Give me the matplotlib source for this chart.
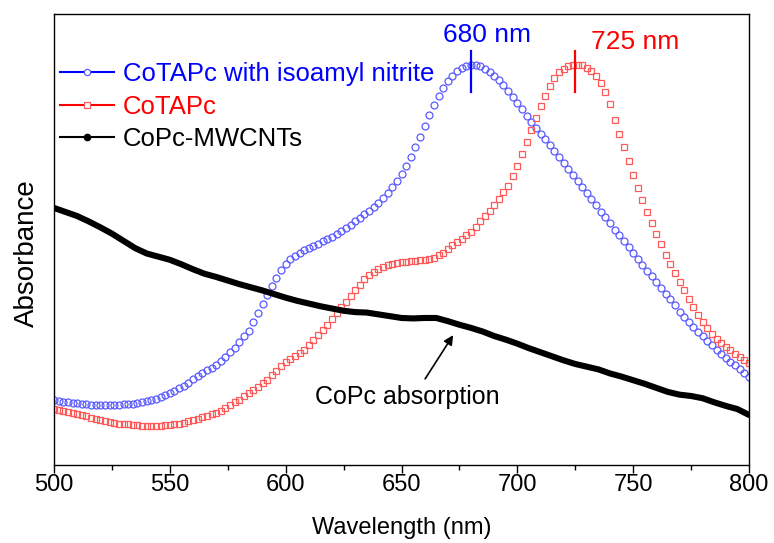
import matplotlib
matplotlib.use("Agg")
import matplotlib.pyplot as plt
from matplotlib.lines import Line2D
from matplotlib import font_manager

# ---- data -------------------------------------------------------------
wl_fine = list(range(500, 801, 2))
wl_coarse = list(range(500, 801, 5))

abs_cotapc_isoamyl = [
    0.144, 0.142, 0.140, 0.139, 0.138, 0.137, 0.136, 0.135, 0.134, 0.133,
    0.133, 0.133, 0.133, 0.134, 0.134, 0.135, 0.135, 0.136, 0.138, 0.140,
    0.142, 0.144, 0.147, 0.150, 0.155, 0.160, 0.165, 0.170, 0.175, 0.182,
    0.190, 0.198, 0.204, 0.210, 0.216, 0.222, 0.230, 0.240, 0.250, 0.260,
    0.272, 0.285, 0.298, 0.318, 0.338, 0.358, 0.378, 0.396, 0.414, 0.432,
    0.446, 0.456, 0.464, 0.470, 0.476, 0.481, 0.486, 0.491, 0.496, 0.501,
    0.506, 0.512, 0.518, 0.525, 0.532, 0.540, 0.548, 0.556, 0.563, 0.571,
    0.582, 0.592, 0.603, 0.616, 0.630, 0.646, 0.664, 0.684, 0.705, 0.727,
    0.752, 0.776, 0.798, 0.818, 0.836, 0.852, 0.863, 0.873, 0.880, 0.885,
    0.887, 0.887, 0.884, 0.879, 0.872, 0.862, 0.853, 0.842, 0.830, 0.817,
    0.803, 0.789, 0.774, 0.760, 0.747, 0.735, 0.722, 0.709, 0.696, 0.682,
    0.669, 0.656, 0.642, 0.629, 0.616, 0.602, 0.589, 0.576, 0.562, 0.549,
    0.536, 0.522, 0.509, 0.496, 0.484, 0.470, 0.456, 0.443, 0.430, 0.418,
    0.405, 0.392, 0.379, 0.367, 0.355, 0.340, 0.329, 0.318, 0.307, 0.296,
    0.285, 0.275, 0.265, 0.255, 0.246, 0.237, 0.229, 0.221, 0.213, 0.205,
    0.196,
]

abs_cotapc = [
    0.124, 0.122, 0.120, 0.118, 0.115, 0.113, 0.111, 0.108, 0.105, 0.102,
    0.100, 0.098, 0.096, 0.094, 0.092, 0.091, 0.090, 0.089, 0.088, 0.087,
    0.086, 0.086, 0.086, 0.087, 0.088, 0.089, 0.090, 0.092, 0.094, 0.097,
    0.100, 0.103, 0.106, 0.109, 0.112, 0.115, 0.120, 0.126, 0.132, 0.139,
    0.145, 0.152, 0.159, 0.166, 0.174, 0.182, 0.189, 0.199, 0.209, 0.219,
    0.228, 0.235, 0.242, 0.248, 0.256, 0.266, 0.277, 0.288, 0.299, 0.311,
    0.324, 0.337, 0.350, 0.362, 0.375, 0.388, 0.400, 0.412, 0.421, 0.428,
    0.434, 0.439, 0.443, 0.446, 0.449, 0.450, 0.451, 0.452, 0.453, 0.454,
    0.455, 0.457, 0.460, 0.465, 0.471, 0.479, 0.487, 0.495, 0.502, 0.509,
    0.517, 0.528, 0.540, 0.552, 0.564, 0.577, 0.590, 0.605, 0.619, 0.640,
    0.662, 0.690, 0.716, 0.742, 0.770, 0.796, 0.818, 0.840, 0.858, 0.871,
    0.879, 0.884, 0.887, 0.888, 0.886, 0.881, 0.873, 0.862, 0.848, 0.828,
    0.800, 0.765, 0.735, 0.704, 0.673, 0.642, 0.614, 0.587, 0.561, 0.536,
    0.512, 0.489, 0.466, 0.445, 0.425, 0.406, 0.388, 0.369, 0.351, 0.333,
    0.317, 0.303, 0.291, 0.280, 0.271, 0.262, 0.254, 0.247, 0.240, 0.233,
    0.226,
]

abs_copc_mwcnts = [
    0.570, 0.561, 0.552, 0.540, 0.527, 0.513, 0.497, 0.481, 0.469, 0.462,
    0.455, 0.445, 0.434, 0.424, 0.417, 0.409, 0.401, 0.394, 0.387, 0.379,
    0.371, 0.364, 0.358, 0.352, 0.347, 0.342, 0.339, 0.338, 0.334, 0.330,
    0.326, 0.325, 0.326, 0.326, 0.319, 0.311, 0.304, 0.296, 0.286, 0.278,
    0.269, 0.259, 0.250, 0.241, 0.232, 0.224, 0.218, 0.212, 0.203, 0.196,
    0.188, 0.180, 0.171, 0.162, 0.156, 0.153, 0.148, 0.139, 0.131, 0.124,
    0.111,
]

series_labels = ["CoTAPc with isoamyl nitrite", "CoTAPc", "CoPc-MWCNTs"]
peak_isoamyl = 680
peak_cotapc = 725
x_ticks = [500, 550, 600, 650, 700, 750, 800]

# ---- fonts ------------------------------------------------------------
installed = {f.name for f in font_manager.fontManager.ttflist}
SANS = "Liberation Sans" if "Liberation Sans" in installed else "DejaVu Sans"
plt.rcParams["font.family"] = SANS

BLUE = "#0000ff"
RED = "#ff0000"
BLUE_MK = "#5a5aff"
RED_MK = "#ff5a5a"

fig = plt.figure(figsize=(7.74, 5.43), dpi=100)
ax = fig.add_axes([54 / 774, 1 - 465 / 543, 695 / 774, 451 / 543])

ax.plot(wl_fine, abs_cotapc_isoamyl, linestyle="none", marker="o", ms=5.0,
        mfc="none", mec=BLUE_MK, mew=0.9)
ax.plot(wl_fine, abs_cotapc, linestyle="none", marker="s", ms=4.6,
        mfc="none", mec=RED_MK, mew=0.9)
ax.plot(wl_coarse, abs_copc_mwcnts, color="black", lw=4.4,
        solid_joinstyle="round", solid_capstyle="round")

ax.set_xlim(500, 800)
ax.set_ylim(0, 1)
ax.set_xticks(x_ticks)
ax.set_xticks(range(525, 800, 50), minor=True)
ax.set_yticks([])
ax.tick_params(axis="x", which="major", direction="out", length=6, width=1.0,
               pad=0.5, labelsize=17)
ax.tick_params(axis="x", which="minor", direction="out", length=3.6, width=1.0)
for sp in ax.spines.values():
    sp.set_linewidth(1.0)

ax.set_xlabel("Wavelength (nm)", fontsize=17, labelpad=15)
ax.set_ylabel("Absorbance", fontsize=20)
ax.yaxis.set_label_coords(-0.02, 0.47)

# peak markers
ax.plot([peak_isoamyl, peak_isoamyl], [0.827, 0.918], color=BLUE, lw=1.6)
ax.plot([peak_cotapc, peak_cotapc], [0.827, 0.918], color=RED, lw=1.6)
ax.text(687, 0.953, f"{peak_isoamyl} nm", color=BLUE, fontsize=19,
        ha="center", va="center")
ax.text(751, 0.938, f"{peak_cotapc} nm", color=RED, fontsize=19,
        ha="center", va="center")

# annotation of the CoPc band
ax.annotate("", xy=(672.3, 0.288), xytext=(660.2, 0.191),
            arrowprops=dict(arrowstyle="-|>", color="black", lw=1.2,
                            mutation_scale=14, shrinkA=0, shrinkB=0))
ax.text(652.4, 0.151, "CoPc absorption", fontsize=18, ha="center", va="center")

handles = [
    Line2D([], [], color=BLUE, lw=1.5, marker="o", ms=4.5, mfc="white",
           mec=BLUE_MK, mew=0.9),
    Line2D([], [], color=RED, lw=1.5, marker="s", ms=4.2, mfc="white",
           mec=RED_MK, mew=0.9),
    Line2D([], [], color="black", lw=1.5, marker="o", ms=4.5, mfc="black",
           mec="black"),
]
leg = ax.legend(handles, series_labels, loc="upper left",
                bbox_to_anchor=(0.009, 0.893), frameon=False, fontsize=18.5,
                handlelength=2.1, handletextpad=0.35, labelspacing=0.33,
                borderpad=0, borderaxespad=0)
for txt, col in zip(leg.get_texts(), [BLUE, RED, "black"]):
    txt.set_color(col)

fig.savefig("out.png", dpi=100)
